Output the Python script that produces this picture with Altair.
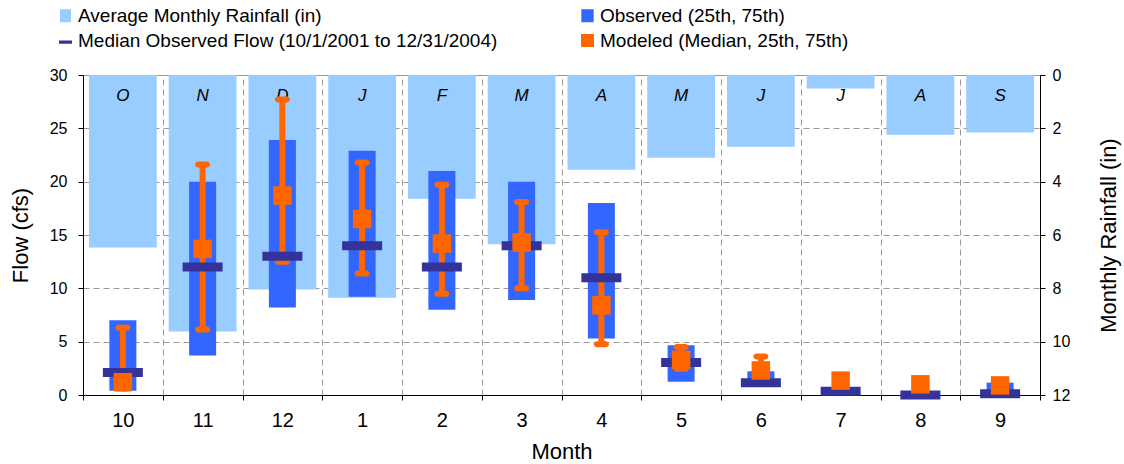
import altair as alt
import pandas as pd

months = ["10", "11", "12", "1", "2", "3", "4", "5", "6", "7", "8", "9"]
letters = ["O", "N", "D", "J", "F", "M", "A", "M", "J", "J", "A", "S"]
rain = [6.47, 9.62, 8.04, 8.35, 4.64, 6.35, 3.55, 3.10, 2.69, 0.51, 2.24, 2.16]
obs25 = [0.4, 3.7, 8.2, 9.2, 8.0, 8.9, 5.3, 1.25, 0.9, 0.2, 0.0, 0.1]
obs75 = [7.0, 20.0, 23.9, 22.9, 21.0, 20.0, 18.0, 4.66, 2.22, 0.6, 0.3, 1.16]
obs_med = [2.1, 12.0, 13.0, 14.0, 12.0, 14.0, 11.0, 3.05, 1.15, 0.36, 0.0, 0.12]
mod_med = [1.2, 13.7, 18.7, 16.5, 14.2, 14.3, 8.4, 3.3, 2.3, 1.35, 1.0, 0.9]
mod25 = [0.6, 6.15, 12.5, 11.4, 9.5, 10.0, 4.75, 2.45, 2.0, 1.2, 0.9, 0.8]
mod75 = [6.3, 21.6, 27.7, 21.8, 19.7, 18.1, 15.25, 4.5, 3.6, 1.5, 1.1, 1.0]

# legend entries (column-major order: left column first)
series = ["Average Monthly Rainfall (in)",
          "Median Observed Flow (10/1/2001 to 12/31/2004)",
          "Observed (25th, 75th)",
          "Modeled (Median, 25th, 75th)"]
series_colors = ["#99CCFF", "#333399", "#3366FF", "#FF6600"]
series_shapes = ["M-0.85,-1H0.85V1H-0.85Z", "M-1,0H1V0.5H-1Z",
                 "M-0.95,-1H0.95V1H-0.95Z", "M-1,-1H1V1H-1Z"]

df = pd.DataFrame({
    "month": months, "letter": letters, "rain": rain,
    "obs25": obs25, "obs75": obs75, "obsmed": obs_med,
    "mod25": mod25, "mod75": mod75, "modmed": mod_med,
})
legend_df = pd.DataFrame({"series": series})

FONT = "Liberation Sans"

X = alt.X("month:N", sort=months, title="Month",
          scale=alt.Scale(paddingInner=0, paddingOuter=0),
          axis=alt.Axis(labelAngle=0, tickBand="extent", grid=True,
                        gridDash=[6, 4], gridColor="#999999", tickSize=5,
                        labelPadding=10, titlePadding=11, labelFontSize=20))

rain_scale = alt.Scale(domain=[0, 12], reverse=True, nice=False)
flow_scale = alt.Scale(domain=[0, 30], nice=False)

rain_bars = alt.Chart(df).mark_bar(color="#99CCFF", width={"band": 0.85}).encode(
    x=X,
    y=alt.Y("rain:Q", scale=rain_scale,
            axis=alt.Axis(orient="right", values=[0, 2, 4, 6, 8, 10, 12], grid=False,
                          title="Monthly Rainfall (in)", titleAngle=270,
                          titleBaseline="top", titlePadding=29, tickSize=5,
                          labelPadding=7)),
    y2=alt.datum(0),
)
letter_text = alt.Chart(df).mark_text(
    font=FONT, fontSize=17, fontStyle="italic", baseline="middle", dy=21, color="black"
).encode(x=X, y=alt.datum(0, type="quantitative"), text="letter:N")

rain_group = alt.layer(rain_bars, letter_text)

obs_bars = alt.Chart(df).mark_bar(color="#3366FF", width=27).encode(
    x=X,
    y=alt.Y("obs25:Q", scale=flow_scale,
            axis=alt.Axis(orient="left", values=[0, 5, 10, 15, 20, 25, 30], grid=True,
                          gridDash=[6, 4], gridColor="#999999", title="Flow (cfs)",
                          tickSize=5, labelPadding=11, titlePadding=17)),
    y2="obs75:Q",
)
err_rule = alt.Chart(df).mark_rule(color="#FF6600", strokeWidth=6).encode(
    x=X, y=alt.Y("mod25:Q", scale=flow_scale), y2="mod75:Q")
caps = alt.Chart(df).transform_fold(["mod25", "mod75"], as_=["k", "v"]).mark_tick(
    color="#FF6600", size=15, thickness=6, cornerRadius=3, opacity=1
).encode(x=X, y=alt.Y("v:Q", scale=flow_scale))
median_tick = alt.Chart(df).mark_tick(color="#333399", size=40, thickness=9, opacity=1).encode(
    x=X, y=alt.Y("obsmed:Q", scale=flow_scale))
mod_square = alt.Chart(df).mark_square(color="#FF6600", size=342, filled=True, opacity=1).encode(
    x=X, y=alt.Y("modmed:Q", scale=flow_scale))

# legend-only layer: no rows are drawn, the explicit scale domain fills the legend
legend_layer = alt.Chart(legend_df).transform_filter("false").mark_point(
    filled=True, opacity=1
).encode(
    color=alt.Color("series:N", sort=series,
                    scale=alt.Scale(domain=series, range=series_colors),
                    legend=alt.Legend(title=None, orient="none", legendX=-27, legendY=-69,
                                      columns=2, columnPadding=80, rowPadding=5,
                                      labelFontSize=19, labelFont=FONT, labelOffset=3,
                                      symbolSize=169, symbolOpacity=1, symbolStrokeWidth=0,
                                      padding=0, labelLimit=600)),
    shape=alt.Shape("series:N", sort=series,
                    scale=alt.Scale(domain=series, range=series_shapes)),
)

flow_group = alt.layer(obs_bars, err_rule, caps, median_tick, mod_square, legend_layer)

chart = alt.layer(rain_group, flow_group).resolve_scale(y="independent").properties(
    width=957, height=320,
    autosize=alt.AutoSizeParams(type="none"),
    padding={"left": 83, "top": 75, "right": 84, "bottom": 69},
).configure_view(stroke="#999999", strokeWidth=1).configure_axis(
    domainColor="black", tickColor="black", labelColor="black", titleColor="black",
    labelFont=FONT, titleFont=FONT, labelFontSize=16, titleFontSize=22,
    titleFontWeight="normal",
)

chart.save("out.html", embed_options={"renderer": "svg", "actions": False})
